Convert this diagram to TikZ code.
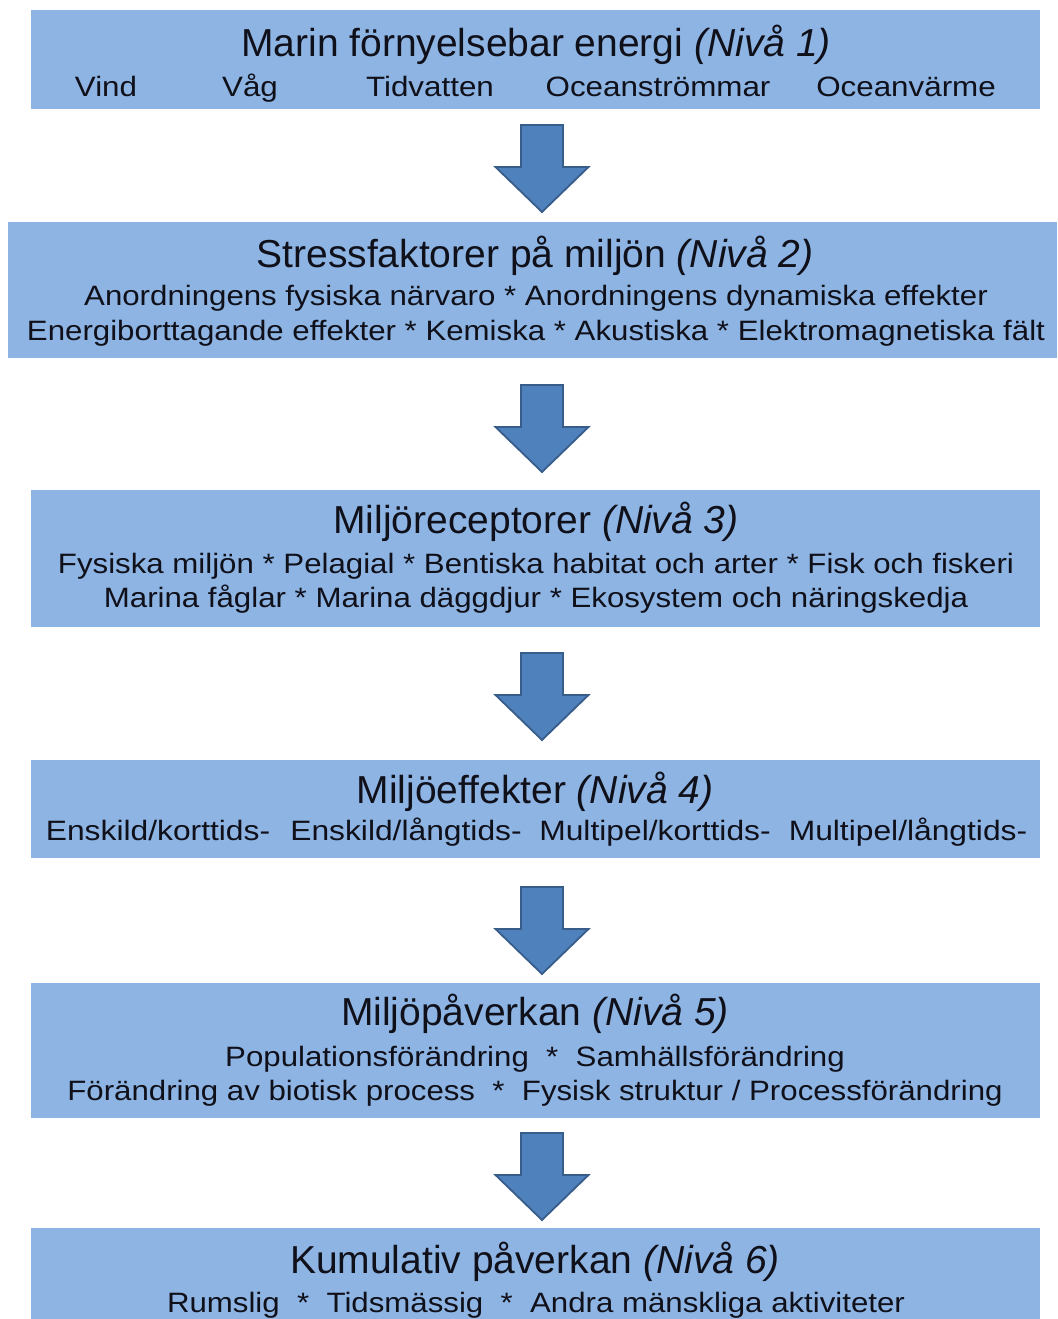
\documentclass[tikz,border=0pt]{standalone}
\usepackage{graphicx}
\usepackage{fontspec}
\setmainfont{Liberation Sans}
\definecolor{boxblue}{HTML}{8DB4E2}
\definecolor{arrowfill}{HTML}{4F81BD}
\definecolor{arrowline}{HTML}{385D8A}
\definecolor{txt}{HTML}{10101A}
\newcommand{\wideline}[2]{\scalebox{#1}[1]{#2}}
\begin{document}
\begin{tikzpicture}[x=1pt,y=-1pt,
  levelbox/.style={fill=boxblue,draw=none,inner sep=0pt,outer sep=0pt},
  ttl/.style={anchor=base,inner sep=0pt,text=txt,font=\fontsize{39}{41}\selectfont},
  sub/.style={anchor=base,inner sep=0pt,text=txt,font=\fontsize{28}{30}\selectfont},
  downarrow/.pic={\path[fill=arrowfill,draw=arrowline,line width=1.8pt,line join=miter]
     (-21,0) -- (21,0) -- (21,42) -- (46.5,42) -- (0,87) -- (-46.5,42) -- (-21,42) -- cycle;}
]
\useasboundingbox (0,0) rectangle (1057,1319);
\clip (0,0) rectangle (1057,1319);
\fill[white] (0,0) rectangle (1057,1319);

% boxes
\path[levelbox] (31,10) rectangle (1040,109) coordinate (b1);
\path[levelbox] (8,222) rectangle (1057,358) coordinate (b2);
\path[levelbox] (31,490) rectangle (1040,627) coordinate (b3);
\path[levelbox] (31,760) rectangle (1040,858) coordinate (b4);
\path[levelbox] (31,983) rectangle (1040,1118) coordinate (b5);
\path[levelbox] (31,1228) rectangle (1040,1340) coordinate (b6);

% arrows
\pic at (542,125) {downarrow};
\pic at (542,385) {downarrow};
\pic at (542,653) {downarrow};
\pic at (542,887) {downarrow};
\pic at (542,1133) {downarrow};

% level 1
\node[ttl] (t1) at (536,57) {Marin förnyelsebar energi \textit{(Nivå 1)}};
\node[sub] (s1a) at (106,97) {\wideline{1.12}{Vind}};
\node[sub] (s1b) at (250,97) {\wideline{1.12}{Våg}};
\node[sub] (s1c) at (430,97) {\wideline{1.12}{Tidvatten}};
\node[sub] (s1d) at (658,97) {\wideline{1.12}{Oceanströmmar}};
\node[sub] (s1e) at (906,97) {\wideline{1.12}{Oceanvärme}};

% level 2
\node[ttl] (t2) at (535,267) {Stressfaktorer på miljön \textit{(Nivå 2)}};
\node[sub] (s2a) at (536,305) {\wideline{1.115}{Anordningens fysiska närvaro * Anordningens dynamiska effekter}};
\node[sub] (s2b) at (536,340) {\wideline{1.115}{Energiborttagande effekter * Kemiska * Akustiska * Elektromagnetiska fält}};

% level 3
\node[ttl] (t3) at (536,533) {Miljöreceptorer \textit{(Nivå 3)}};
\node[sub] (s3a) at (536,573) {\wideline{1.115}{Fysiska miljön * Pelagial * Bentiska habitat och arter * Fisk och fiskeri}};
\node[sub] (s3b) at (536,607) {\wideline{1.115}{Marina fåglar * Marina däggdjur * Ekosystem och näringskedja}};

% level 4
\node[ttl] (t4) at (535,803) {Miljöeffekter \textit{(Nivå 4)}};
\node[sub] (s4a) at (158,840) {\wideline{1.135}{Enskild/korttids-}};
\node[sub] (s4b) at (406,840) {\wideline{1.135}{Enskild/långtids-}};
\node[sub] (s4c) at (655,840) {\wideline{1.135}{Multipel/korttids-}};
\node[sub] (s4d) at (908,840) {\wideline{1.135}{Multipel/långtids-}};

% level 5
\node[ttl] (t5) at (535,1025) {Miljöpåverkan \textit{(Nivå 5)}};
\node[sub] (s5a) at (535,1066) {\wideline{1.115}{Populationsförändring~~*~~Samhällsförändring}};
\node[sub] (s5b) at (535,1100) {\wideline{1.115}{Förändring av biotisk process~~*~~Fysisk struktur / Processförändring}};

% level 6
\node[ttl] (t6) at (535,1273) {Kumulativ påverkan \textit{(Nivå 6)}};
\node[sub] (s6a) at (536,1312) {\wideline{1.115}{Rumslig~~*~~Tidsmässig~~*~~Andra mänskliga aktiviteter}};
\end{tikzpicture}
\end{document}
